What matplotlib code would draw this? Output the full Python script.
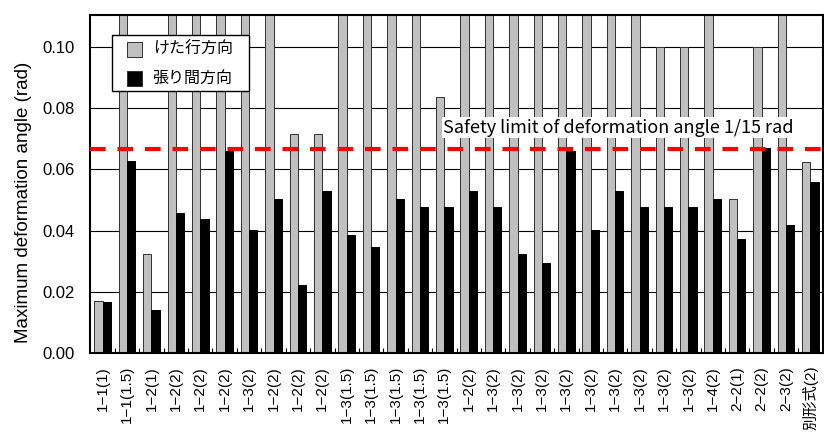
import numpy as np
import matplotlib
matplotlib.use("Agg")
import matplotlib.pyplot as plt
from matplotlib.patches import Rectangle

plt.rcParams["font.family"] = "Liberation Sans"
CJK = ["Liberation Sans", "Noto Sans CJK JP"]

OFF = 0.12  # values that run past the top of the axis

labels = [
    "1−1(1)", "1−1(1.5)", "1−2(1)", "1−2(2)", "1−2(2)", "1−2(2)", "1−3(2)",
    "1−2(2)", "1−2(2)", "1−2(2)", "1−3(1.5)", "1−3(1.5)", "1−3(1.5)",
    "1−3(1.5)", "1−3(1.5)", "1−2(2)", "1−3(2)", "1−3(2)", "1−3(2)", "1−3(2)",
    "1−3(2)", "1−3(2)", "1−3(2)", "1−3(2)", "1−3(2)", "1−4(2)", "2−2(1)",
    "2−2(2)", "2−3(2)", "別形式(2)",
]
girder_dir = [
    0.0170, OFF, 0.0323, OFF, OFF, OFF, OFF, OFF, 0.0714, 0.0714,
    OFF, OFF, OFF, OFF, 0.0835, OFF, OFF, OFF, OFF, OFF,
    OFF, OFF, OFF, 0.100, 0.100, OFF, 0.0502, 0.100, OFF, 0.0625,
]
span_dir = [
    0.0167, 0.0627, 0.0141, 0.0458, 0.0438, 0.0661, 0.0401, 0.0503, 0.0223, 0.0529,
    0.0386, 0.0347, 0.0503, 0.0477, 0.0477, 0.0529, 0.0477, 0.0324, 0.0294, 0.0661,
    0.0401, 0.0529, 0.0477, 0.0477, 0.0477, 0.0503, 0.0373, 0.0669, 0.0418, 0.0559,
]
series_names = ["けた行方向", "張り間方向"]
series_colors = ["#c0c0c0", "black"]
limit = 1 / 15

W, H = 824, 434
fig = plt.figure(figsize=(W / 100, H / 100), dpi=100)
ax = fig.add_axes([0.1098, 0.186, 0.8885, 0.7794])

x = np.arange(len(labels))
w = 0.34
ax.bar(x - w / 2, girder_dir, w, color=series_colors[0], edgecolor="#303030",
       linewidth=0.7, zorder=2)
ax.bar(x + w / 2, span_dir, w, color=series_colors[1], edgecolor="black",
       linewidth=0.7, zorder=2)

ax.axhline(limit, color="#ff0000", linewidth=3, dashes=(3.75, 2.85), zorder=3)
ax.text(13.95, 0.0735, "Safety limit of deformation angle 1/15 rad",
        family=["Noto Sans CJK JP"], fontsize=13, va="center", ha="left",
        zorder=4,
        bbox=dict(facecolor="white", edgecolor="none", pad=1.0))

ax.set_xlim(-0.5, len(labels) - 0.5)
ax.set_ylim(0, 0.1103)
ax.set_yticks(np.arange(0, 0.101, 0.02))
ax.set_yticklabels([f"{v:.2f}" for v in np.arange(0, 0.101, 0.02)])
ax.yaxis.grid(True, color="black", linewidth=0.8)
ax.set_axisbelow(True)
ax.tick_params(axis="y", length=0, pad=11.5, labelsize=12)

# labels at bar centres, small inward ticks between the groups
ax.set_xticks(x)
ax.set_xticklabels(labels, rotation=90, fontsize=11, va="top", family=CJK)
ax.tick_params(axis="x", which="major", length=0, pad=9)
ax.set_xticks(np.arange(0.5, len(labels) - 0.5, 1), minor=True)
ax.tick_params(axis="x", which="minor", direction="in", length=3.5,
               width=0.8, color="black")

for side in ax.spines.values():
    side.set_linewidth(1.5)
    side.set_color("black")

ax.set_ylabel("Maximum deformation angle (rad)", fontsize=13.5)
ax.yaxis.set_label_coords(-0.080, 0.447)


# legend box laid out in pixels from the top-left corner
def fx(px):
    return px / W


def fy(py):
    return 1 - py / H


fig.add_artist(Rectangle((fx(111.7), fy(90.7)), fx(137.6), 55.7 / H,
                         transform=fig.transFigure, facecolor="white",
                         edgecolor="black", linewidth=1.0, zorder=5))
for i, (name, col) in enumerate(zip(series_names, series_colors)):
    cy = 49.3 + 29 * i
    fig.add_artist(Rectangle((fx(126.7), fy(cy + 7.5)), fx(15), 15 / H,
                             transform=fig.transFigure, facecolor=col,
                             edgecolor="#303030", linewidth=0.7, zorder=6))
    fig.text(fx(152.7), fy(cy), name, family=["Noto Sans CJK JP"],
             fontsize=11.5, va="center", ha="left", zorder=6)

fig.savefig("out.png", dpi=100)
